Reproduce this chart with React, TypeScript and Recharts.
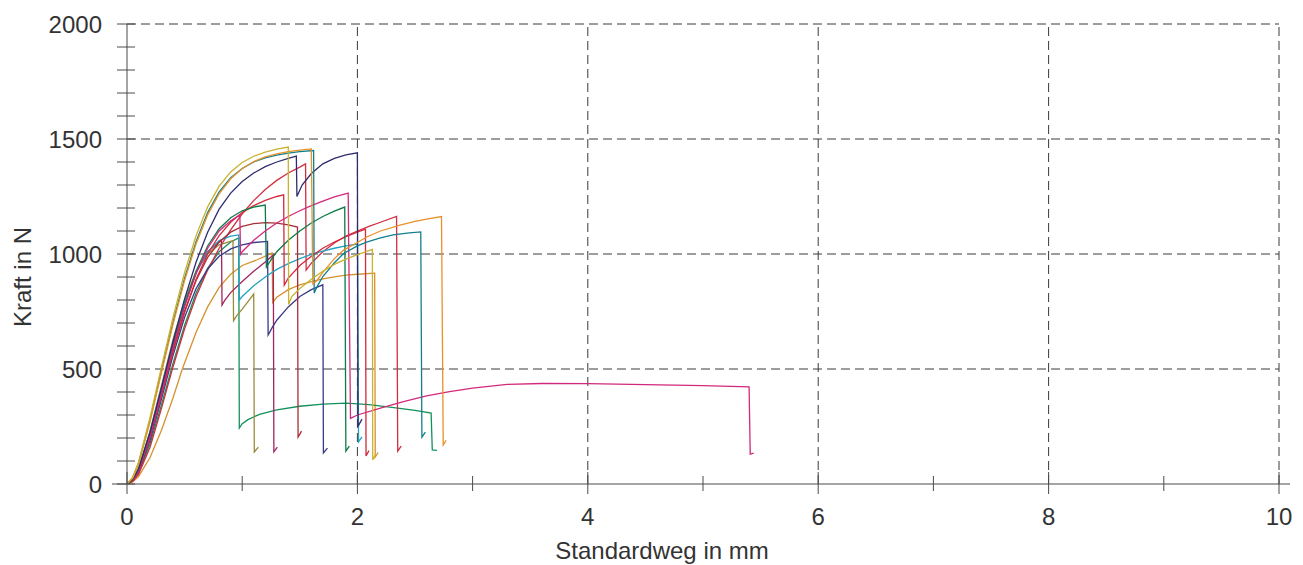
import { Line, LineChart, ReferenceLine, XAxis, YAxis } from 'recharts'

type P = [number, number]

const FONT = 'Liberation Sans, Arial, sans-serif'
const TEXT = '#333333'
const AXIS = '#4a4a4a'
const GRID = '#3a3a3a'

const xTicks = [0, 1, 2, 3, 4, 5, 6, 7, 8, 9, 10]
const yTicks = [0, 100, 200, 300, 400, 500, 600, 700, 800, 900, 1000, 1100, 1200, 1300, 1400, 1500, 1600, 1700, 1800, 1900, 2000]
const xGrid = [2, 4, 6, 8, 10]
const yGrid = [500, 1000, 1500, 2000]

// Weg (mm), Kraft (N)
const yellow: P[] = [[0, 0], [0.05, 30], [0.1, 95], [0.2, 290], [0.3, 510], [0.4, 725], [0.5, 920], [0.6, 1080], [0.7, 1205], [0.8, 1295], [0.9, 1357], [1.0, 1398], [1.1, 1425], [1.2, 1443], [1.3, 1456], [1.4, 1465], [1.403, 780], [1.43, 815], [1.5, 850], [1.6, 890], [1.7, 925], [1.8, 955], [1.9, 978], [2.0, 997], [2.13, 1020], [2.133, 105], [2.16, 130]]
const orange: P[] = [[0, 0], [0.05, 26], [0.1, 85], [0.2, 270], [0.3, 485], [0.4, 695], [0.5, 885], [0.6, 1045], [0.7, 1170], [0.8, 1262], [0.9, 1327], [1.0, 1372], [1.1, 1402], [1.2, 1422], [1.3, 1435], [1.4, 1445], [1.5, 1452], [1.6, 1457], [1.613, 870], [1.65, 885], [1.7, 920], [1.8, 980], [1.88, 1017], [2.0, 1050], [2.08, 1074], [2.2, 1100], [2.37, 1126], [2.5, 1142], [2.6, 1152], [2.73, 1163], [2.745, 170], [2.77, 190]]
const teal: P[] = [[0, 0], [0.05, 28], [0.1, 90], [0.2, 280], [0.3, 495], [0.4, 705], [0.5, 895], [0.6, 1055], [0.7, 1180], [0.8, 1270], [0.9, 1332], [1.0, 1372], [1.1, 1400], [1.2, 1418], [1.3, 1430], [1.4, 1439], [1.5, 1445], [1.62, 1450], [1.625, 830], [1.65, 858], [1.7, 902], [1.8, 962], [1.88, 1002], [2.0, 1035], [2.08, 1052], [2.2, 1070], [2.31, 1083], [2.45, 1092], [2.55, 1096], [2.56, 204], [2.59, 226]]
const navy: P[] = [[0, 0], [0.05, 20], [0.1, 65], [0.2, 225], [0.3, 420], [0.4, 620], [0.5, 805], [0.6, 965], [0.7, 1095], [0.8, 1195], [0.9, 1265], [1.0, 1315], [1.1, 1352], [1.2, 1380], [1.3, 1400], [1.4, 1416], [1.47, 1426], [1.475, 1250], [1.52, 1300], [1.6, 1350], [1.7, 1392], [1.8, 1416], [1.9, 1431], [2.0, 1440], [2.005, 250], [2.04, 282]]
const red: P[] = [[0, 0], [0.05, 17], [0.1, 55], [0.2, 200], [0.3, 385], [0.4, 575], [0.5, 745], [0.6, 890], [0.7, 1000], [0.8, 1080], [0.9, 1138], [1.0, 1180], [1.1, 1210], [1.2, 1233], [1.3, 1250], [1.36, 1257], [1.365, 865], [1.4, 895], [1.5, 950], [1.6, 990], [1.7, 1025], [1.8, 1052], [1.9, 1075], [2.0, 1095], [2.07, 1108], [2.075, 122], [2.1, 145]]
const brick: P[] = [[0, 0], [0.05, 18], [0.1, 58], [0.2, 208], [0.3, 395], [0.4, 585], [0.5, 752], [0.6, 885], [0.7, 985], [0.8, 1052], [0.9, 1095], [1.0, 1120], [1.1, 1132], [1.2, 1136], [1.3, 1134], [1.4, 1127], [1.48, 1117], [1.485, 204], [1.515, 230]]
const red2: P[] = [[0, 0], [0.05, 12], [0.1, 42], [0.2, 160], [0.3, 330], [0.4, 510], [0.5, 675], [0.6, 815], [0.7, 930], [0.8, 1025], [0.9, 1105], [1.0, 1175], [1.1, 1232], [1.2, 1280], [1.3, 1320], [1.4, 1352], [1.5, 1378], [1.55, 1392], [1.555, 930], [1.6, 960], [1.7, 1010], [1.8, 1048], [1.9, 1078], [2.0, 1100], [2.1, 1120], [2.2, 1138], [2.34, 1163], [2.35, 143], [2.38, 165]]
const green: P[] = [[0, 0], [0.05, 19], [0.1, 60], [0.2, 215], [0.3, 410], [0.4, 605], [0.5, 780], [0.6, 925], [0.7, 1035], [0.8, 1110], [0.9, 1158], [1.0, 1188], [1.1, 1204], [1.2, 1213], [1.21, 943], [1.25, 975], [1.3, 1010], [1.4, 1060], [1.5, 1100], [1.6, 1135], [1.7, 1163], [1.8, 1186], [1.89, 1204], [1.9, 143], [1.93, 165]]
const greenLow: P[] = [[0, 0], [0.05, 15], [0.1, 48], [0.2, 175], [0.3, 345], [0.4, 525], [0.5, 690], [0.6, 830], [0.7, 938], [0.8, 1010], [0.9, 1052], [0.97, 1070], [0.975, 243], [1.0, 262], [1.05, 280], [1.15, 303], [1.3, 322], [1.5, 338], [1.7, 347], [1.9, 352], [2.1, 345], [2.3, 333], [2.5, 320], [2.64, 308], [2.65, 148], [2.69, 146]]
const cyan: P[] = [[0, 0], [0.05, 21], [0.1, 65], [0.2, 225], [0.3, 420], [0.4, 615], [0.5, 785], [0.6, 920], [0.7, 1010], [0.8, 1058], [0.9, 1078], [0.97, 1083], [0.975, 800], [1.0, 815], [1.1, 862], [1.2, 900], [1.3, 933], [1.4, 958], [1.5, 980], [1.6, 998], [1.7, 1012], [1.8, 1025], [1.9, 1035], [2.0, 1043], [2.01, 183], [2.04, 205]]
const olive: P[] = [[0, 0], [0.05, 22], [0.1, 68], [0.2, 230], [0.3, 430], [0.4, 630], [0.5, 800], [0.6, 925], [0.7, 1000], [0.8, 1040], [0.92, 1058], [0.925, 710], [0.95, 730], [1.0, 760], [1.05, 793], [1.1, 826], [1.105, 139], [1.14, 160]]
const maroon: P[] = [[0, 0], [0.05, 19], [0.1, 60], [0.2, 215], [0.3, 410], [0.4, 610], [0.5, 785], [0.6, 920], [0.7, 1010], [0.82, 1060], [0.825, 778], [0.85, 800], [0.9, 832], [1.0, 880], [1.1, 925], [1.2, 965], [1.27, 996], [1.275, 140], [1.305, 160]]
const navy2: P[] = [[0, 0], [0.05, 17], [0.1, 55], [0.2, 190], [0.3, 370], [0.4, 560], [0.5, 725], [0.6, 850], [0.7, 935], [0.8, 990], [0.9, 1022], [1.0, 1040], [1.1, 1050], [1.22, 1055], [1.225, 648], [1.26, 680], [1.3, 712], [1.4, 770], [1.5, 815], [1.6, 845], [1.7, 866], [1.705, 135], [1.74, 156]]
const tan: P[] = [[0, 0], [0.05, 9], [0.1, 32], [0.2, 115], [0.3, 235], [0.4, 375], [0.48, 500], [0.6, 660], [0.7, 770], [0.8, 855], [0.9, 912], [1.0, 950], [1.13, 975], [1.26, 1004], [1.265, 790], [1.3, 812], [1.4, 845], [1.5, 866], [1.6, 880], [1.7, 892], [1.8, 901], [1.9, 908], [2.0, 912], [2.15, 917], [2.155, 117], [2.18, 137]]
const pink: P[] = [[0, 0], [0.05, 18], [0.1, 58], [0.2, 210], [0.3, 400], [0.4, 595], [0.5, 770], [0.6, 915], [0.7, 1025], [0.8, 1100], [0.9, 1145], [0.98, 1170], [0.985, 998], [1.0, 1010], [1.1, 1060], [1.2, 1100], [1.3, 1135], [1.4, 1163], [1.5, 1188], [1.6, 1210], [1.7, 1230], [1.8, 1248], [1.92, 1265], [1.94, 285], [2.0, 300], [2.2, 330], [2.4, 358], [2.6, 383], [2.8, 402], [3.0, 417], [3.3, 433], [3.6, 437], [4.0, 436], [4.5, 432], [5.0, 428], [5.4, 422], [5.41, 130], [5.44, 134]]

const series: { name: string; color: string; pts: P[] }[] = [
  { name: 'tan', color: '#d6912c', pts: tan },
  { name: 'greenLow', color: '#13915a', pts: greenLow },
  { name: 'red2', color: '#cf2f40', pts: red2 },
  { name: 'olive', color: '#9c8a3c', pts: olive },
  { name: 'maroon', color: '#a1245d', pts: maroon },
  { name: 'navy2', color: '#383a88', pts: navy2 },
  { name: 'cyan', color: '#22a2c2', pts: cyan },
  { name: 'brick', color: '#a72e38', pts: brick },
  { name: 'red', color: '#d22a3c', pts: red },
  { name: 'green', color: '#0c7b46', pts: green },
  { name: 'pink', color: '#d3297c', pts: pink },
  { name: 'navy', color: '#2c2c6c', pts: navy },
  { name: 'teal', color: '#11808e', pts: teal },
  { name: 'orange', color: '#e8912a', pts: orange },
  { name: 'yellow', color: '#c8b22e', pts: yellow },
]

function YTick(props: any) {
  const { x, y, payload } = props
  const v = payload.value as number
  return (
    <g>
      <line x1={x - 10} x2={x + 8} y1={y} y2={y} stroke={AXIS} strokeWidth={1} />
      {v % 500 === 0 && (
        <text x={x - 25} y={y} dy="0.36em" textAnchor="end" fontSize={24} fontFamily={FONT} fill={TEXT}>
          {v}
        </text>
      )}
    </g>
  )
}

function XTick(props: any) {
  const { x, y, payload } = props
  const v = payload.value as number
  const major = v % 2 === 0
  return (
    <g>
      {v === 0 && <line x1={x - 15} x2={x} y1={y} y2={y} stroke={AXIS} />}
      {v === 10 && <line x1={x} x2={x + 11} y1={y} y2={y} stroke={AXIS} />}
      <line x1={x} x2={x} y1={major ? y - 12 : y - 8} y2={major ? y + 10 : y + 7} stroke={AXIS} />
      {major && (
        <text x={x} y={y + 41} textAnchor="middle" fontSize={24} fontFamily={FONT} fill={TEXT}>
          {v}
        </text>
      )}
    </g>
  )
}

export default function App() {
  return (
    <div style={{ position: 'absolute', left: 0, top: 0, background: '#fff' }}>
      <LineChart width={1303} height={565} margin={{ top: 24, right: 24, bottom: 31, left: 67 }}>
        <XAxis
          type="number"
          dataKey="s"
          domain={[0, 10]}
          ticks={xTicks}
          interval={0}
          tickSize={0}
          tickMargin={0}
          tickLine={false}
          height={50}
          axisLine={{ stroke: AXIS }}
          tick={<XTick />}
          allowDataOverflow
          label={{
            value: 'Standardweg in mm',
            content: () => (
              <text x={662} y={559} textAnchor="middle" fontSize={24} fontFamily={FONT} fill={TEXT}>
                Standardweg in mm
              </text>
            ),
          }}
        />
        <YAxis
          type="number"
          domain={[0, 2000]}
          ticks={yTicks}
          interval={0}
          tickSize={0}
          tickMargin={0}
          tickLine={false}
          width={60}
          axisLine={{ stroke: AXIS }}
          tick={<YTick />}
          allowDataOverflow
          label={{
            value: 'Kraft in N',
            content: () => (
              <text
                x={31}
                y={277}
                textAnchor="middle"
                fontSize={24}
                fontFamily={FONT}
                fill={TEXT}
                transform="rotate(-90, 31, 277)"
              >
                Kraft in N
              </text>
            ),
          }}
        />
        {yGrid.map((v) => (
          <ReferenceLine key={'h' + v} y={v} stroke={GRID} strokeDasharray="9 5" strokeWidth={1} />
        ))}
        {xGrid.map((v) => (
          <ReferenceLine key={'v' + v} x={v} stroke={GRID} strokeDasharray="9 5" strokeWidth={1} />
        ))}
        {series.map((s) => (
          <Line
            key={s.name}
            data={s.pts.map(([sx, f]) => ({ s: sx, f }))}
            dataKey="f"
            type="linear"
            stroke={s.color}
            strokeWidth={1.3}
            dot={false}
            activeDot={false}
            isAnimationActive={false}
          />
        ))}
      </LineChart>
    </div>
  )
}
